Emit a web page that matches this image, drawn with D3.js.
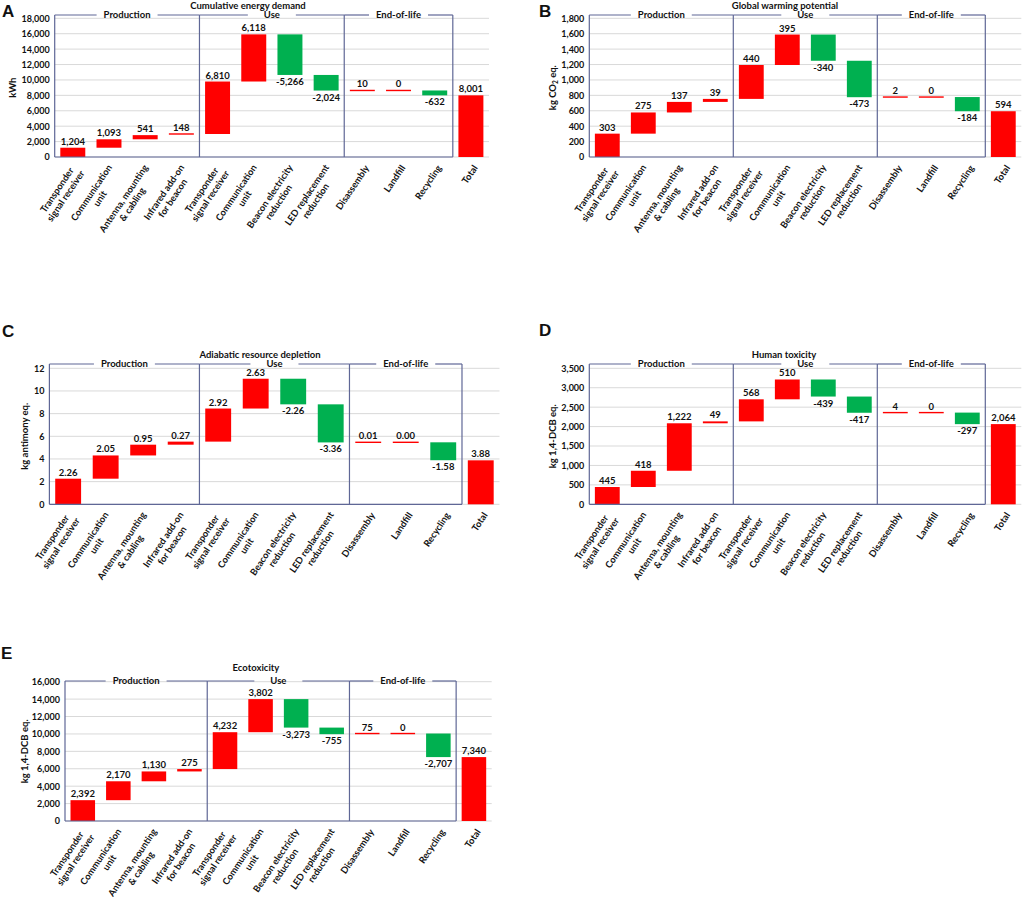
<!DOCTYPE html>
<html><head><meta charset="utf-8">
<script src="https://cdn.jsdelivr.net/npm/d3@7"></script>
<style>
body{margin:0;background:#fff}
text{font-family:Lato,"Open Sans",sans-serif;font-weight:bold;fill:#111}
</style>
</head><body>
<svg id="c" width="1031" height="897"></svg>
<script>
// ---------- DATA ----------
const categories = [
  "Transponder\nsignal receiver", "Communication\nunit", "Antenna, mounting\n& cabling", "Infrared add-on\nfor beacon",
  "Transponder\nsignal receiver", "Communication\nunit", "Beacon electricity\nreduction", "LED replacement\nreduction",
  "Disassembly", "Landfill", "Recycling", "Total"
];
const sections = ["Production", "Use", "End-of-life"];
const sectionStarts = [0, 4, 8, 11];   // category index boundaries of the sections

const cedValues = [1204, 1093, 541, 148, 6810, 6118, -5266, -2024, 10, 0, -632, 8001];
const gwpValues = [303, 275, 137, 39, 440, 395, -340, -473, 2, 0, -184, 594];
const adpValues = [2.26, 2.05, 0.95, 0.27, 2.92, 2.63, -2.26, -3.36, 0.01, 0.00, -1.58, 3.88];
const htpValues = [445, 418, 1222, 49, 568, 510, -439, -417, 4, 0, -297, 2064];
const ecoValues = [2392, 2170, 1130, 275, 4232, 3802, -3273, -755, 75, 0, -2707, 7340];

const cedTicks = [0, 2000, 4000, 6000, 8000, 10000, 12000, 14000, 16000, 18000];
const gwpTicks = [0, 200, 400, 600, 800, 1000, 1200, 1400, 1600, 1800];
const adpTicks = [0, 2, 4, 6, 8, 10, 12];
const htpTicks = [0, 500, 1000, 1500, 2000, 2500, 3000, 3500];
const ecoTicks = [0, 2000, 4000, 6000, 8000, 10000, 12000, 14000, 16000];

// ---------- LAYOUT ----------
const panels = [
  {letter:"A", title:"Cumulative energy demand", yLabel:"kWh", values:cedValues, ticks:cedTicks, fmt:",.0f", tfmt:",.0f",
   x0:54.7, x1:489, yBot:157, yTop:18.3, boxTop:15, titleX:248, titleY:9, letterX:2, letterY:17, yLabX:13},
  {letter:"B", title:"Global warming potential", yLabel:"CO2", values:gwpValues, ticks:gwpTicks, fmt:",.0f", tfmt:",.0f",
   x0:589.3, x1:1021.3, yBot:157, yTop:18.3, boxTop:15, titleX:785, titleY:9, letterX:539, letterY:16.5, yLabX:553},
  {letter:"C", title:"Adiabatic resource depletion", yLabel:"kg antimony eq.", values:adpValues, ticks:adpTicks, fmt:".2f", tfmt:"d",
   x0:49.4, x1:499.5, yBot:504.3, yTop:368.3, boxTop:364, titleX:260, titleY:358, letterX:2, letterY:336.5, yLabX:25},
  {letter:"D", title:"Human toxicity", yLabel:"kg 1,4-DCB eq.", values:htpValues, ticks:htpTicks, fmt:",.0f", tfmt:",.0f",
   x0:589.3, x1:1021.3, yBot:504.3, yTop:368.3, boxTop:364, titleX:784, titleY:358, letterX:539, letterY:336, yLabX:553},
  {letter:"E", title:"Ecotoxicity", yLabel:"kg 1,4-DCB eq.", values:ecoValues, ticks:ecoTicks, fmt:",.0f", tfmt:",.0f",
   x0:65, x1:491.7, yBot:821, yTop:681.7, boxTop:681, titleX:256, titleY:671, letterX:1, letterY:659, yLabX:25}
];

const svg = d3.select("#c");
const RED = "#ff0000", GREEN = "#00b050", BOX = "#5f6796", GRID = "#d9d9d9";
const FS_TICK = 9, FS_LAB = 9.5, FS_X = 9.3, FS_SEC = 9.5, FS_TITLE = 9.5, FS_Y = 9.5;

panels.forEach(p => {
  const g = svg.append("g");
  const x = d3.scaleBand().domain(d3.range(categories.length)).range([p.x0, p.x1])
    .paddingInner(0.31).paddingOuter(0.155);
  const y = d3.scaleLinear().domain([0, p.ticks[p.ticks.length - 1]]).range([p.yBot, p.yTop]);
  const step = x.step();
  const f = d3.format(p.fmt);
  const fmt = v => f(v).replace("\u2212", "-");
  const tfmt = d3.format(p.tfmt);

  // grid
  g.selectAll(".grid").data(p.ticks).join("line")
    .attr("x1", p.x0).attr("x2", p.x1).attr("y1", d => y(d)).attr("y2", d => y(d))
    .attr("stroke", GRID).attr("stroke-width", 1);

  // y axis
  const ax = g.append("g").attr("transform", `translate(${p.x0},0)`)
    .call(d3.axisLeft(y).tickValues(p.ticks).tickSize(0).tickPadding(5).tickFormat(tfmt));
  ax.select(".domain").remove();
  ax.selectAll("text").attr("font-size", FS_TICK).attr("font-family", "Lato").attr("font-weight", "bold").attr("fill", "#111");

  // waterfall
  let run = 0;
  const bars = p.values.map((v, i) => {
    const last = i === p.values.length - 1;
    const start = last ? 0 : run;
    const end = last ? v : run + v;
    if (!last) run = end;
    return {i, v, lo: Math.min(start, end), hi: Math.max(start, end), neg: v < 0};
  });
  g.selectAll(".bar").data(bars).join("rect")
    .attr("x", d => x(d.i)).attr("width", x.bandwidth())
    .attr("y", d => { const h = y(d.lo) - y(d.hi); return h < 1.4 ? y(d.hi) - 0.7 : y(d.hi); })
    .attr("height", d => Math.max(1.4, y(d.lo) - y(d.hi)))
    .attr("fill", d => d.neg ? GREEN : RED);
  g.selectAll(".lab").data(bars).join("text")
    .attr("x", d => x(d.i) + x.bandwidth() / 2)
    .attr("y", d => d.neg ? y(d.lo) + 10 : y(d.hi) - 3)
    .attr("text-anchor", "middle").attr("font-size", FS_LAB)
    .text(d => fmt(d.v));

  // box
  const bx = sectionStarts.map(k => p.x0 + k * step);
  bx.forEach(xx => g.append("line").attr("x1", xx).attr("x2", xx).attr("y1", p.boxTop).attr("y2", p.yBot)
    .attr("stroke", BOX).attr("stroke-width", 1.2));
  g.append("line").attr("x1", bx[0]).attr("x2", bx[3]).attr("y1", p.yBot).attr("y2", p.yBot)
    .attr("stroke", BOX).attr("stroke-width", 1.2);
  sections.forEach((s, k) => {
    const cx = (bx[k] + bx[k + 1]) / 2;
    const t = g.append("text").attr("x", cx).attr("y", p.boxTop).attr("dy", "0.35em")
      .attr("text-anchor", "middle").attr("font-size", FS_SEC).text(s);
    const w = t.node().getComputedTextLength();
    const gap = s === "Use" ? 24 : w / 2 + 7;
    g.append("line").attr("x1", bx[k]).attr("x2", cx - gap).attr("y1", p.boxTop).attr("y2", p.boxTop)
      .attr("stroke", BOX).attr("stroke-width", 1.2);
    g.append("line").attr("x1", cx + gap).attr("x2", bx[k + 1]).attr("y1", p.boxTop).attr("y2", p.boxTop)
      .attr("stroke", BOX).attr("stroke-width", 1.2);
  });

  // x labels
  const lh = 10.5;
  categories.forEach((c, i) => {
    const lines = c.split("\n");
    const n = lines.length;
    const cx = x(i) + x.bandwidth() / 2;
    const lg = g.append("g").attr("transform",
      `translate(${cx + (n === 1 ? 4.5 : 5)},${p.yBot + (n === 1 ? 9 : 11.5)}) rotate(-56)`);
    const ts = lines.map((l, k) => lg.append("text").attr("text-anchor", "middle")
      .attr("y", (k - (n - 1) / 2) * lh).attr("dy", "0.35em").attr("font-size", FS_X).text(l));
    const W = d3.max(ts, t => t.node().getComputedTextLength());
    ts.forEach(t => t.attr("x", -W / 2));
  });

  // title
  g.append("text").attr("x", p.titleX).attr("y", p.titleY).attr("text-anchor", "middle")
    .attr("font-size", FS_TITLE).text(p.title);
  // letter
  g.append("text").attr("x", p.letterX).attr("y", p.letterY).attr("font-size", 17)
    .style("font-family", "'Liberation Sans',Arial,sans-serif").text(p.letter);
  // y label
  const yl = g.append("text").attr("transform", `translate(${p.yLabX},${(p.yBot + p.yTop) / 2}) rotate(-90)`)
    .attr("text-anchor", "middle").attr("dy", "0.35em").attr("font-size", FS_Y);
  if (p.yLabel === "CO2") {
    yl.append("tspan").text("kg CO");
    yl.append("tspan").attr("font-size", 6.5).attr("dy", "2").text("2");
    yl.append("tspan").attr("dy", "-2").text(" eq.");
  } else yl.text(p.yLabel);
});
</script>
</body></html>
